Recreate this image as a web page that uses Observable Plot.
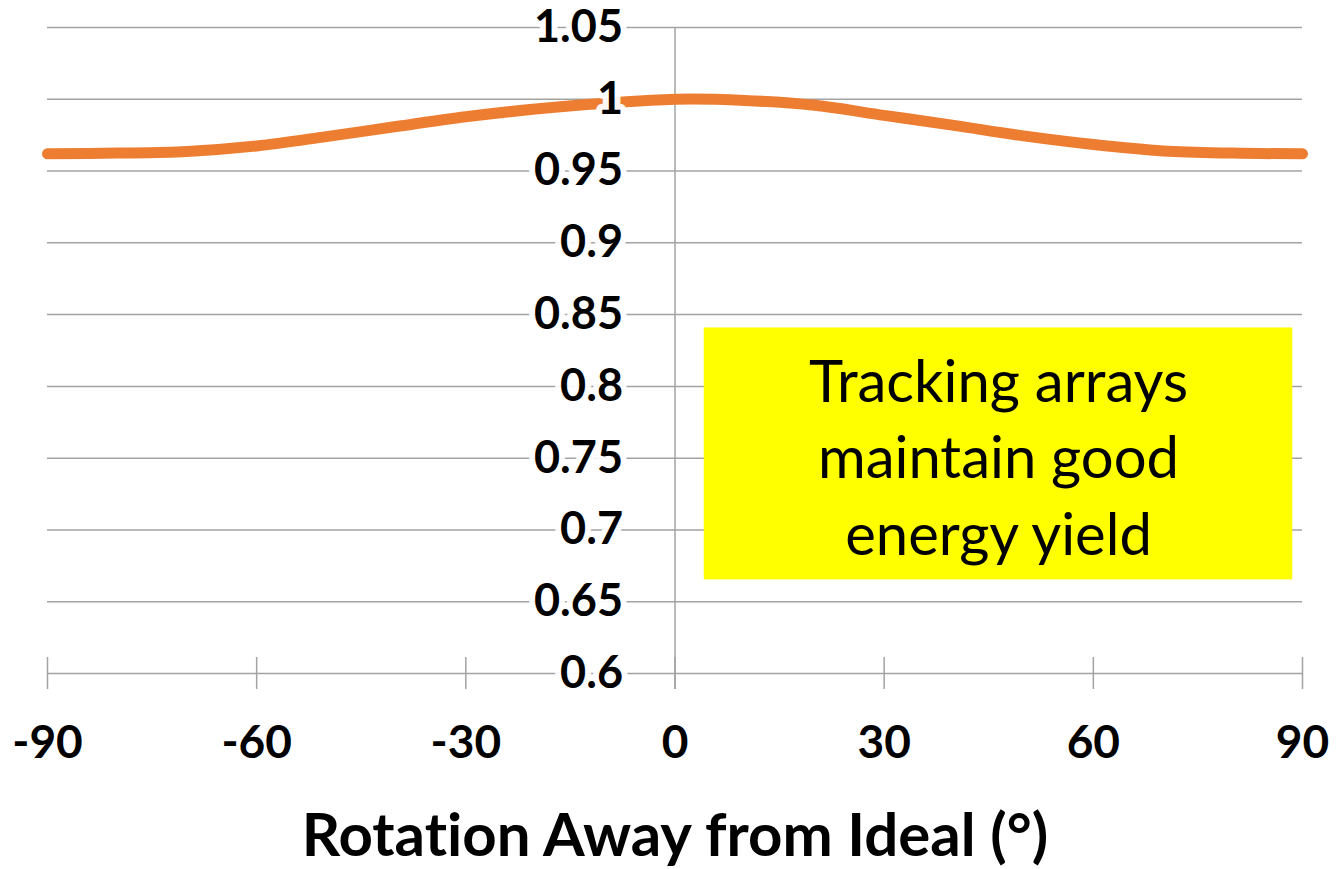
<!DOCTYPE html>
<html>
<head>
<meta charset="utf-8">
<script src="https://cdn.jsdelivr.net/npm/d3@7"></script>
<script src="https://cdn.jsdelivr.net/npm/@observablehq/plot@0.6"></script>
<style>
  html, body { margin: 0; padding: 0; background: #ffffff; }
  #chart svg { display: block; }
  #chart svg text { font-variant-ligatures: none; font-feature-settings: "liga" 0, "clig" 0; }
</style>
</head>
<body>
<div id="chart"></div>
<script>
// Rotation away from the ideal orientation (degrees)
const rotation = [-90, -80, -70, -60, -50, -40, -30, -20, -10, 0, 10, 20, 30, 40, 50, 60, 70, 80, 90];
// Relative energy yield at each rotation
const relativeYield = [0.962, 0.9625, 0.9637, 0.9675, 0.974, 0.981, 0.9878, 0.9932, 0.9972, 1.0,
                       0.9992, 0.9958, 0.9888, 0.9818, 0.9745, 0.9685, 0.964, 0.9625, 0.962];

const xTicks = [-90, -60, -30, 0, 30, 60, 90];
const yTicks = [0.6, 0.65, 0.7, 0.75, 0.8, 0.85, 0.9, 0.95, 1.0, 1.05];
const yTickLabels = ["0.6", "0.65", "0.7", "0.75", "0.8", "0.85", "0.9", "0.95", "1", "1.05"];

const xLabel = "Rotation Away from Ideal (°)";
const noteLines = ["Tracking arrays", "maintain good", "energy yield"];
// Callout box extent, in chart units
const noteBox = {x1: 4.2, x2: 88.6, y1: 0.6652, y2: 0.8407};

const series = rotation.map((r, i) => ({rotation: r, yield: relativeYield[i]}));
const yTickRows = yTicks.map((v, i) => ({value: v, label: yTickLabels[i]}));

const font = "Lato, 'Open Sans', sans-serif";
const gridColor = "#a3a3a3";

const chart = Plot.plot({
  width: 1340,
  height: 869,
  marginLeft: 47,
  marginRight: 38,
  marginTop: 27,
  marginBottom: 196,
  style: {fontFamily: font, background: "#ffffff", overflow: "visible"},
  x: {domain: [-90, 90], axis: null},
  y: {domain: [0.6, 1.05], axis: null},
  marks: [
    // horizontal gridlines
    Plot.ruleY(yTicks, {stroke: gridColor, strokeWidth: 1.5}),
    // vertical axis at zero rotation
    Plot.ruleX([0], {stroke: gridColor, strokeWidth: 1.5, insetBottom: -16}),
    // tick marks crossing the bottom gridline
    Plot.ruleX(xTicks, {x: d => d, y1: 0.6, y2: 0.6, insetTop: -16, insetBottom: -16,
                        stroke: gridColor, strokeWidth: 1.5}),
    // callout box
    Plot.rect([noteBox], {x1: "x1", x2: "x2", y1: "y1", y2: "y2", fill: "#ffff00"}),
    Plot.text([noteLines.join("\n")], {
      x: (noteBox.x1 + noteBox.x2) / 2,
      y: (noteBox.y1 + noteBox.y2) / 2,
      text: d => d,
      fontSize: 58,
      lineHeight: 1.32,
      lineAnchor: "middle",
      fill: "#000000",
      textAnchor: "middle"
    }),
    // yield curve
    Plot.line(series, {x: "rotation", y: "yield", stroke: "#ed7d31", strokeWidth: 11, curve: "catmull-rom"}),
    // y tick labels sitting beside the zero axis with a white halo
    Plot.text(yTickRows, {
      x: 0, y: "value", text: "label",
      textAnchor: "end", dx: -52, lineAnchor: "middle",
      fontSize: 45, fontWeight: "bold",
      fill: "#000000", stroke: "#ffffff", strokeWidth: 12, strokeOpacity: 0.95
    }),
    // x tick labels
    Plot.text(xTicks, {
      x: d => d, frameAnchor: "bottom", lineAnchor: "middle", dy: 70, text: d => String(d),
      fontSize: 46, fontWeight: "bold", fill: "#000000"
    }),
    // x axis title
    Plot.text([xLabel], {
      frameAnchor: "bottom", lineAnchor: "bottom", dy: 182, text: d => d,
      fontSize: 60, fontWeight: "bold", fill: "#000000"
    })
  ]
});

document.getElementById("chart").appendChild(chart);
</script>
</body>
</html>
